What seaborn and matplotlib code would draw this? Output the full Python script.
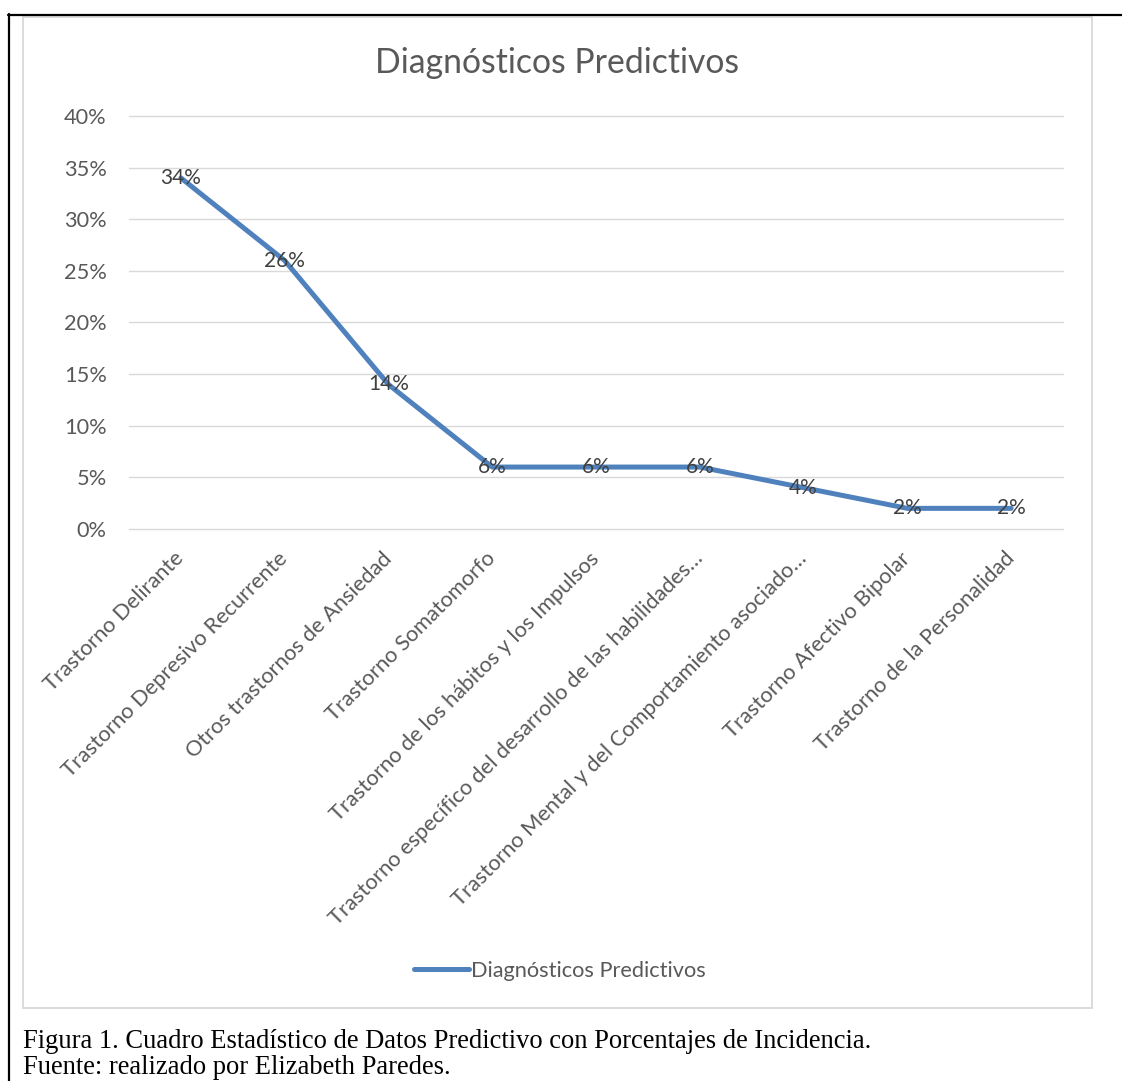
import matplotlib
matplotlib.use("Agg")
import matplotlib.pyplot as plt
import matplotlib.ticker as mticker
import matplotlib.transforms as mtransforms
from matplotlib.patches import Rectangle
from matplotlib.lines import Line2D
import seaborn as sns
import pandas as pd

# Diagnostic categories and their share of incidence
categorias = [
    "Trastorno Delirante",
    "Trastorno Depresivo Recurrente",
    "Otros trastornos de Ansiedad",
    "Trastorno Somatomorfo",
    "Trastorno de los hábitos y los Impulsos",
    "Trastorno específico del desarrollo de las habilidades…",
    "Trastorno Mental y del Comportamiento asociado…",
    "Trastorno Afectivo Bipolar",
    "Trastorno de la Personalidad",
]
porcentajes = [0.34, 0.26, 0.14, 0.06, 0.06, 0.06, 0.04, 0.02, 0.02]
y_ticks = [0.0, 0.05, 0.10, 0.15, 0.20, 0.25, 0.30, 0.35, 0.40]

serie = "Diagnósticos Predictivos"
titulo = "Diagnósticos Predictivos"
pie_1 = "Figura 1. Cuadro Estadístico de Datos Predictivo con Porcentajes de Incidencia."
pie_2 = "Fuente: realizado por Elizabeth Paredes."

df = pd.DataFrame({"categoria": categorias, "valor": porcentajes})

sns.set_theme(style="white")
plt.rcParams["font.family"] = ["Lato", "DejaVu Sans"]

W, H = 1122, 1081
fig = plt.figure(figsize=(W / 100, H / 100), dpi=100)
fig.patch.set_facecolor("white")

def fx(px):
    return px / W

def fy(py):
    return 1 - py / H

# Outer document frame (black) and chart box (light gray)
fig.add_artist(Line2D([fx(8.5), fx(8.5)], [fy(14), 0], color="black", lw=1.6,
                      transform=fig.transFigure))
fig.add_artist(Line2D([fx(8), 1.0], [fy(14.5), fy(14.5)], color="black", lw=1.6,
                      transform=fig.transFigure))
fig.add_artist(Rectangle((fx(22.5), fy(1008)), fx(1092) - fx(22.5), fy(17) - fy(1008),
                         transform=fig.transFigure, fill=False,
                         edgecolor="#D9D9D9", lw=1.3))

ax = fig.add_axes([fx(129), fy(529), fx(1063) - fx(129), fy(116) - fy(529)])

sns.lineplot(data=df, x="categoria", y="valor", ax=ax, sort=False,
             color="#4F81BD", linewidth=3.6, label=serie)

ax.set_ylim(0, 0.40)
ax.set_xlim(-0.5, len(categorias) - 0.5)
ax.set_yticks(y_ticks)
ax.yaxis.set_major_formatter(mticker.PercentFormatter(1.0, decimals=0))
ax.grid(axis="y", color="#D9D9D9", linewidth=1.0)
for gl in ax.get_ygridlines():
    gl.set_clip_on(False)
ax.set_axisbelow(True)
for s in ax.spines.values():
    s.set_visible(False)
ax.set_xlabel("")
ax.set_ylabel("")
ax.tick_params(axis="both", length=0, labelsize=15.7, labelcolor="#595959")
ax.tick_params(axis="y", pad=16)

ax.set_xticks(range(len(categorias)))
ax.set_xticklabels(categorias, rotation=45, ha="right", va="center",
                   rotation_mode="anchor")
off = mtransforms.ScaledTranslation(6 / 100, 0, fig.dpi_scale_trans)
for lab in ax.get_xticklabels():
    lab.set_transform(lab.get_transform() + off)
ax.tick_params(axis="x", pad=19)

# Value labels centred on each point
for i, v in enumerate(porcentajes):
    ax.text(i, v, f"{v:.0%}", ha="center", va="center", fontsize=15,
            color="#404040")

# Legend below the category labels
leg = ax.legend(loc="center", bbox_to_anchor=(fx(560), fy(971)),
                bbox_transform=fig.transFigure, frameon=False, fontsize=15.7,
                handlelength=2.5, handletextpad=0.1)
for t in leg.get_texts():
    t.set_color("#595959")

fig.text(fx(557), fy(73), titulo, ha="center", va="baseline", fontsize=24.3,
         color="#595959")

fig.text(fx(23), fy(1048), pie_1, ha="left", va="baseline", fontsize=19.1,
         family="Liberation Serif", color="black")
fig.text(fx(23), fy(1074), pie_2, ha="left", va="baseline", fontsize=19.1,
         family="Liberation Serif", color="black")

fig.savefig("out.png", dpi=100, facecolor="white")
